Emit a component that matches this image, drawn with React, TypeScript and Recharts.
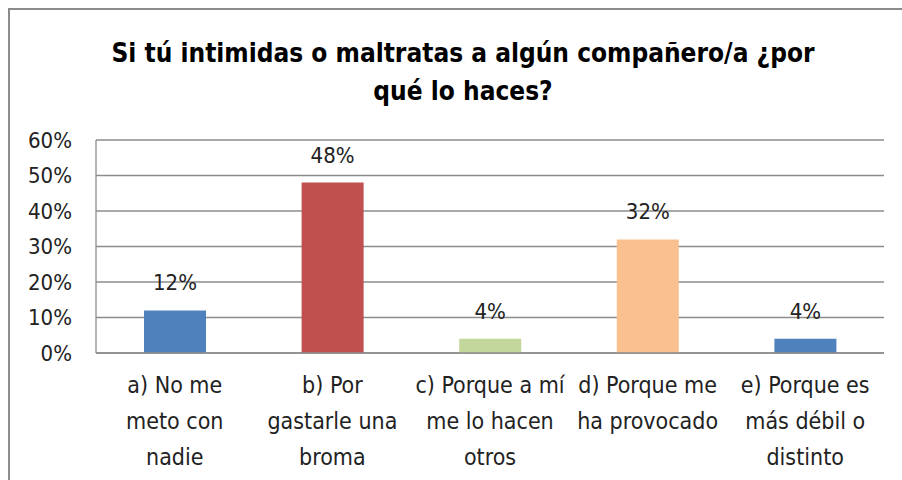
import { BarChart, Bar, XAxis, YAxis, CartesianGrid, Cell, LabelList } from 'recharts';

// Respuestas (las etiquetas llevan los saltos de línea del original)
const categories = [
  'a) No me\nmeto con\nnadie',
  'b) Por\ngastarle una\nbroma',
  'c) Porque a mí\nme lo hacen\notros',
  'd) Porque me\nha provocado',
  'e) Porque es\nmás débil o\ndistinto',
];
const values = [0.12, 0.48, 0.04, 0.32, 0.04];
const colors = ['#4F81BD', '#C0504D', '#C3D69B', '#FAC090', '#4F81BD'];
const yTicks = [0, 0.1, 0.2, 0.3, 0.4, 0.5, 0.6];

const FONT = "'Liberation Sans Narrow', 'DejaVu Sans Condensed', 'Roboto Condensed', Roboto, sans-serif";

const data = categories.map((name, i) => ({ name, value: values[i] }));

const pct = (v: number) => `${Math.round(v * 100)}%`;

function CategoryTick({ x, y, payload }: any) {
  const lines = String(payload.value).split('\n');
  return (
    <text x={x} y={y} textAnchor="middle" fill="#222" fontSize={23} fontFamily={FONT}>
      {lines.map((l, i) => (
        <tspan key={i} x={x} dy={i === 0 ? 32 : 36}>
          {l}
        </tspan>
      ))}
    </text>
  );
}

export default function App() {
  return (
    <div
      style={{
        position: 'fixed',
        left: 8,
        top: 8,
        width: 894,
        height: 472,
        borderTop: '2px solid #8c8c8c',
        borderLeft: '2px solid #8c8c8c',
        overflow: 'hidden',
        boxSizing: 'border-box',
        background: '#fff',
      }}
    >
      <style>{'html, body { overflow: hidden; }'}</style>
      <div
        style={{
          position: 'absolute',
          left: 0,
          top: 24,
          width: 878,
          paddingLeft: 14,
          textAlign: 'center',
          fontFamily: FONT,
          fontWeight: 'bold',
          fontSize: 26,
          lineHeight: '38px',
          color: '#000',
        }}
      >
        Si tú intimidas o maltratas a algún compañero/a ¿por
        <br />
        qué lo haces?
      </div>
      <div style={{ position: 'absolute', left: 0, top: 0 }}>
        <BarChart
          width={892}
          height={470}
          data={data}
          margin={{ top: 130, right: 18, bottom: 0, left: 0 }}
          barCategoryGap={48}
          accessibilityLayer={false}
        >
          <CartesianGrid vertical={false} stroke="#8c8c8c" strokeWidth={1.3} />
          <XAxis
            dataKey="name"
            interval={0}
            tickLine={false}
            axisLine={{ stroke: '#8c8c8c', strokeWidth: 1.3 }}
            tick={<CategoryTick />}
            height={127}
          />
          <YAxis
            width={86}
            domain={[0, 0.6]}
            ticks={yTicks}
            tickFormatter={pct}
            tickLine={false}
            tickSize={0}
            tickMargin={24}
            axisLine={{ stroke: '#8c8c8c', strokeWidth: 1.3 }}
            tick={{ fontSize: 22, fill: '#222', fontFamily: FONT }}
          />
          <Bar dataKey="value" barSize={62} isAnimationActive={false}>
            {data.map((d, i) => (
              <Cell key={d.name} fill={colors[i]} />
            ))}
            <LabelList
              dataKey="value"
              position="top"
              offset={20}
              formatter={(v: any) => pct(Number(v))}
              style={{ fontSize: 22, fill: '#222', fontFamily: FONT }}
            />
          </Bar>
        </BarChart>
      </div>
    </div>
  );
}
